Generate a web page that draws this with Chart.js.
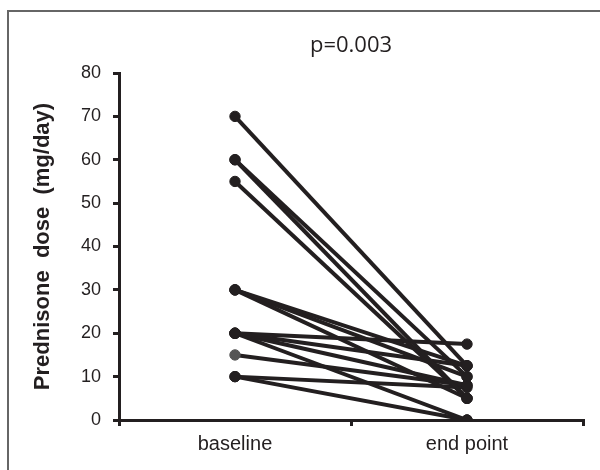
<!DOCTYPE html>
<html>
<head>
<meta charset="utf-8">
<script src="https://cdn.jsdelivr.net/npm/chart.js@4.4.1/dist/chart.umd.min.js"></script>
<style>
  html, body { margin: 0; padding: 0; background: #fff; }
  #wrap { width: 600px; height: 470px; position: relative; }
</style>
</head>
<body>
<div id="wrap"><canvas id="grafico" width="600" height="470"></canvas></div>
<script>
const categorias = ["baseline", "end point"];

// one pair per patient: baseline dose -> end point dose (mg/day)
const baseline = [70, 60, 60, 55, 30, 30, 30, 20, 20, 20, 20, 15, 10, 10];
const endPoint = [12.5, 10, 5, 5, 12.5, 10, 5, 17.5, 12.5, 8, 0, 8, 7.5, 0];

const yTicks = [0, 10, 20, 30, 40, 50, 60, 70, 80];

const tinta = "#231f20";
const cinza = "#555";

const datasets = baseline.map((v, i) => {
  const corInicio = v === 15 ? cinza : tinta;
  return {
    label: "patient " + (i + 1),
    data: [v, endPoint[i]],
    borderColor: tinta,
    pointBackgroundColor: [corInicio, tinta],
    pointBorderColor: [corInicio, tinta],
    pointBorderWidth: 1,
    borderWidth: 4,
    pointRadius: 5.2,
    pointHoverRadius: 5.2,
    tension: 0
  };
});

const moldura = {
  id: "moldura",
  beforeDraw(chart) {
    const c = chart.ctx;
    c.save();
    c.strokeStyle = "#666";
    c.lineWidth = 2;
    c.beginPath();
    c.moveTo(8, 470);
    c.lineTo(8, 11);
    c.lineTo(600, 11);
    c.stroke();
    c.restore();
  },
  afterDraw(chart) {
    const c = chart.ctx;
    const a = chart.chartArea;
    c.save();
    c.fillStyle = tinta;
    c.font = "22px 'Open Sans'";
    c.textAlign = "center";
    c.textBaseline = "middle";
    c.fillText("p=0.003", (a.left + a.right) / 2, 46);
    c.restore();
  }
};

const ctx = document.getElementById("grafico");

new Chart(ctx, {
  type: "line",
  data: { labels: categorias, datasets: datasets },
  plugins: [moldura],
  options: {
    responsive: false,
    animation: false,
    layout: { padding: { left: 20, top: 73, right: 17, bottom: 0 } },
    plugins: {
      legend: { display: false },
      tooltip: { enabled: false },
      title: { display: false }
    },
    scales: {
      x: {
        type: "category",
        offset: true,
        afterFit(s) { s.height = 50; },
        grid: {
          display: true,
          offset: true,
          drawOnChartArea: false,
          drawTicks: true,
          tickLength: 6,
          color: tinta,
          lineWidth: 3
        },
        border: { display: true, color: tinta, width: 3 },
        ticks: {
          color: tinta,
          padding: 6,
          font: { family: "'Liberation Sans', Arial", size: 20 }
        }
      },
      y: {
        min: 0,
        max: 80,
        afterFit(s) { s.width = 99; },
        afterBuildTicks(s) { s.ticks = yTicks.map(v => ({ value: v })); },
        grid: {
          display: true,
          drawOnChartArea: false,
          drawTicks: true,
          tickLength: 6,
          color: tinta,
          lineWidth: 3
        },
        border: { display: true, color: tinta, width: 3 },
        ticks: {
          color: tinta,
          padding: 12,
          font: { family: "'Liberation Sans', Arial", size: 18 }
        },
        title: {
          display: true,
          text: "Prednisone  dose  (mg/day)",
          color: tinta,
          padding: { top: 10, bottom: 0 },
          font: { family: "'Liberation Sans', Arial", size: 22, weight: "bold" }
        }
      }
    }
  }
});
</script>
</body>
</html>
